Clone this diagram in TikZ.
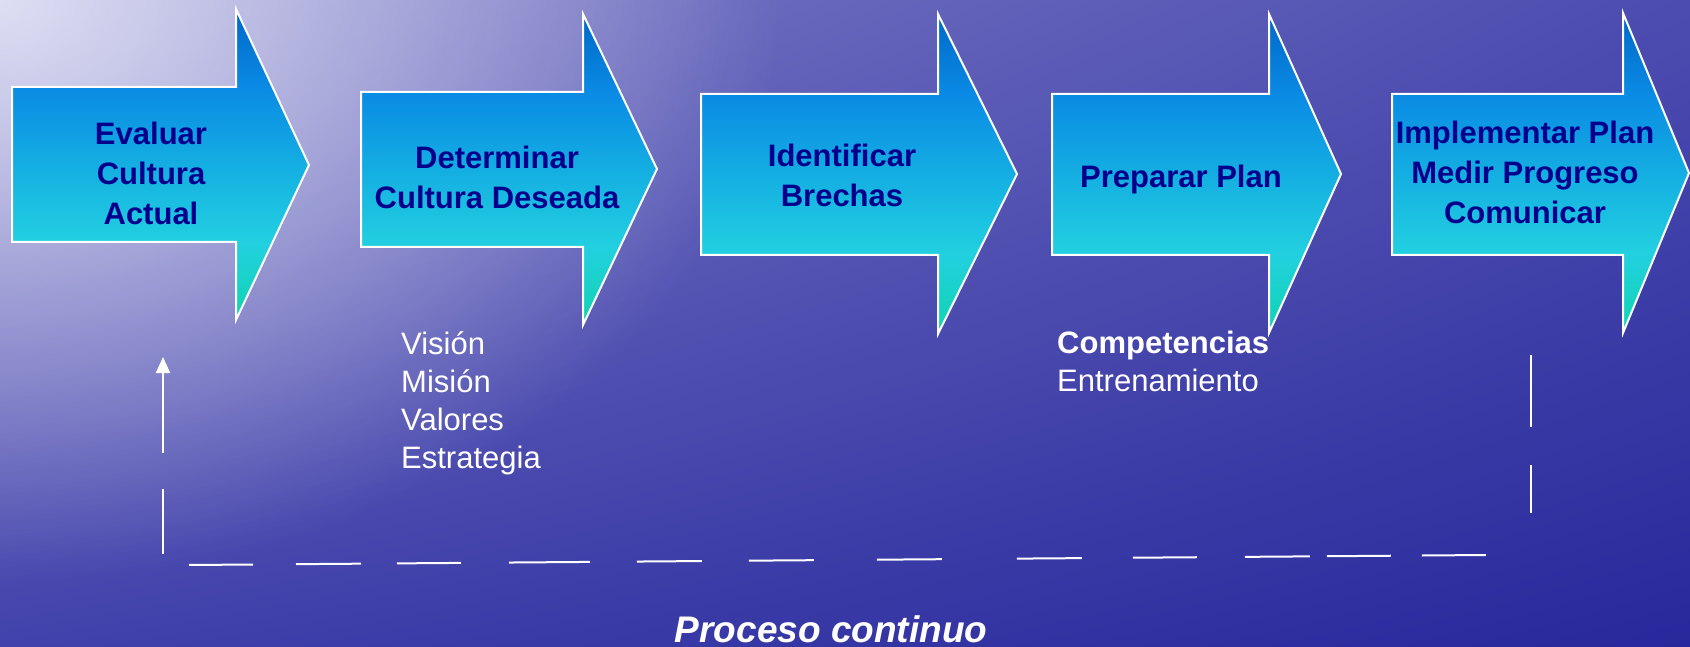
\documentclass[tikz,border=0pt]{standalone}
\usepackage{fontspec}
\setmainfont{Liberation Sans}
\usetikzlibrary{arrows.meta,fadings,shadings}

\definecolor{bgul}{RGB}{128,128,200}
\definecolor{bgur}{RGB}{76,76,176}
\definecolor{bgll}{RGB}{66,66,172}
\definecolor{bglr}{RGB}{40,40,156}
\definecolor{halo}{RGB}{232,232,248}
\definecolor{aru}{RGB}{0,104,200}
\definecolor{arv}{RGB}{10,138,228}
\definecolor{arw}{RGB}{20,174,226}
\definecolor{arx}{RGB}{34,208,224}
\definecolor{ary}{RGB}{16,212,176}
\definecolor{azul}{RGB}{0,0,140}

\tikzfading[name=brillo, inner color=transparent!0, outer color=transparent!100]
\pgfdeclareverticalshading{degradado}{100bp}{color(0bp)=(ary); color(25bp)=(ary);
  color(37.5bp)=(arx); color(50bp)=(arw); color(62.5bp)=(arv); color(75bp)=(aru); color(100bp)=(aru)}

\begin{document}
\begin{tikzpicture}[x=1pt,y=-1pt]
    \tikzstyle{flecha}=[draw=white,line width=2pt,shade,shading=degradado]
    \tikzstyle{paso}=[inner sep=0,align=center,text=azul,font=\fontsize{31}{40}\selectfont\bfseries]
    \tikzstyle{nota}=[inner sep=0,align=left,anchor=north west,text=white,font=\fontsize{31}{38.3}\selectfont]
    \tikzstyle{ciclo}=[white,line width=2pt]
    \useasboundingbox (0,0) rectangle (1690,647);
    % fondo
    \shade[upper left=bgul,upper right=bgur,lower left=bgll,lower right=bglr] (0,0) rectangle (1690,647);
    \begin{scope}
      \clip (0,0) rectangle (1690,647);
      \fill[halo,fill opacity=0.9,path fading=brillo] (0,0) ellipse (780 and 580);
    \end{scope}
    % flechas
    \path[flecha] (12,87) -- (236,87) -- (236,9) -- (309,165) -- (236,320) -- (236,242) -- (12,242) -- cycle;
    \path[flecha] (361,92) -- (583,92) -- (583,14) -- (657,169) -- (583,325) -- (583,247) -- (361,247) -- cycle;
    \path[flecha] (701,94) -- (938,94) -- (938,14) -- (1017,174) -- (938,334) -- (938,255) -- (701,255) -- cycle;
    \path[flecha] (1052,94) -- (1269,94) -- (1269,14) -- (1341,174) -- (1269,333) -- (1269,255) -- (1052,255) -- cycle;
    \path[flecha] (1392,94) -- (1623,94) -- (1623,13) -- (1689,173) -- (1623,333) -- (1623,255) -- (1392,255) -- cycle;
    \node[paso] (evaluar) at (151,173) {Evaluar\\Cultura\\Actual};
    \node[paso] (deseada) at (497,177) {Determinar\\Cultura Deseada};
    \node[paso] (brechas) at (842,175.5) {Identificar\\Brechas};
    \node[paso] (plan) at (1181,179) {Preparar Plan};
    \node[paso] (medir) at (1525,172.5) {Implementar Plan\\Medir Progreso\\Comunicar};
    \node[nota] (vision) at (401,331) {Visión\\Misión\\Valores\\Estrategia};
    \node[nota] (compet) at (1057,331) {\textbf{Competencias}\\Entrenamiento};
    \node[inner sep=0,text=white,font=\fontsize{37}{44}\selectfont\bfseries\itshape] (proceso) at (831,629) {Proceso continuo};
    % ciclo de retorno
    \coordinate (retA) at (1531,355);
    \coordinate (retB) at (1531,513);
    \coordinate (baseR) at (1487,555);
    \coordinate (baseL) at (189,565);
    \coordinate (iniB) at (163,554);
    \coordinate (iniA) at (163,357);
    \draw[ciclo,dash pattern=on 72pt off 38pt on 48pt off 100pt] (retA) -- (retB);
    \draw[ciclo,dash pattern=on 64pt off 43pt on 65pt off 36pt on 64pt off 48pt on 81pt off 47pt on 65pt off 47pt on 65pt off 63pt on 65pt off 75pt on 65pt off 51pt on 64pt off 48pt on 65pt off 17pt on 64pt off 31pt on 64pt off 100pt] (baseL) -- (baseR);
    \draw[ciclo,-{Triangle[length=16pt,width=14pt]},dash pattern=on 65pt off 36pt on 300pt off 10pt] (iniB) -- (iniA);
\end{tikzpicture}
\end{document}
